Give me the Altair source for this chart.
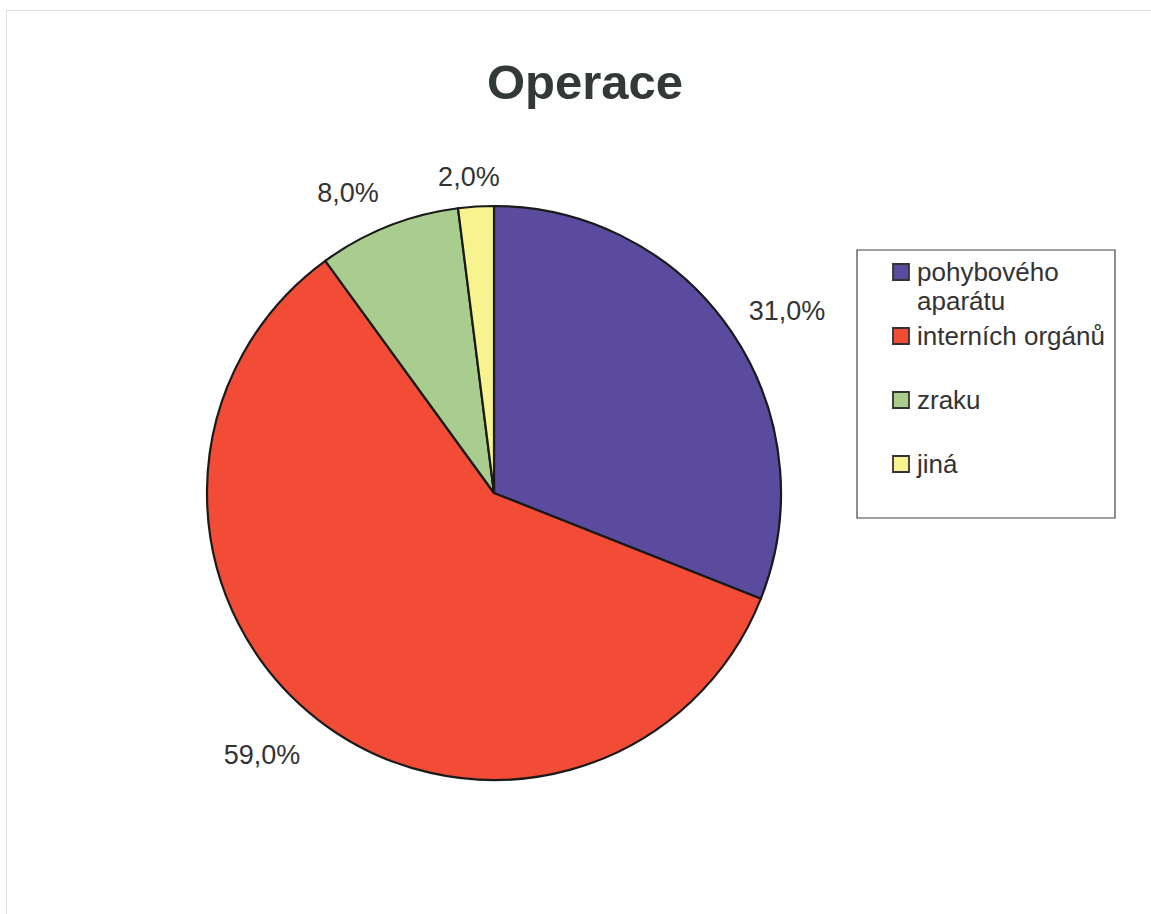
import altair as alt
import pandas as pd

categories = ["pohybového aparátu", "interních orgánů", "zraku", "jiná"]
values = [31.0, 59.0, 8.0, 2.0]
labels = ["31,0%", "59,0%", "8,0%", "2,0%"]
colors = ["#5B4B9F", "#F24B36", "#A9CD8E", "#F7F38E"]

df = pd.DataFrame({"cat": categories, "val": values, "lab": labels, "ord": list(range(len(categories)))})

FONT = "Liberation Sans"
CX, CY = 488, 483
TXT = "#333333"

color_scale = alt.Scale(domain=categories, range=colors)
base = alt.Chart(df)

pie = base.mark_arc(stroke="#1a1a1a", strokeWidth=2.2, radius=287).encode(
    theta=alt.Theta("val:Q", stack=True),
    order=alt.Order("ord:Q"),
    color=alt.Color("cat:N", scale=color_scale, legend=None),
    x=alt.value(CX),
    y=alt.value(CY),
)

# label base: compute mid-angle fraction of each slice
lab_base = base.transform_joinaggregate(total="sum(val)").transform_window(
    cum="sum(val)", sort=[alt.SortField("ord")], frame=[None, 0]
).transform_calculate(frac="(datum.cum - datum.val / 2) / datum.total")

label_specs = [
    (0, "left", "alphabetic", 308),
    (1, "right", "top", 316),
    (2, "right", "alphabetic", 313),
    (3, "right", "alphabetic", 308),
]
label_layers = []
for o, al, bl, r in label_specs:
    label_layers.append(
        lab_base.transform_filter(f"datum.ord == {o}").mark_text(
            font=FONT, fontSize=27, color=TXT, align=al, baseline=bl, radius=r,
            dx=(25 if o == 3 else 0)
        ).encode(
            theta=alt.Theta("frac:Q", scale=alt.Scale(domain=[0, 1]), stack=None),
            text="lab:N",
            x=alt.value(CX),
            y=alt.value(CY),
        )
    )

# legend (drawn as marks)
box = alt.Chart(pd.DataFrame({"k": [0]})).mark_rect(
    fill="white", stroke="#444444", strokeWidth=1.2
).encode(x=alt.value(851), x2=alt.value(1109), y=alt.value(240), y2=alt.value(508))

leg_y = alt.Y("cat:N", sort=categories, scale=alt.Scale(domain=categories, range=[262, 454], padding=0), axis=None)

leg_sym = base.mark_square(size=256, stroke="#333333", strokeWidth=1.8, opacity=1).encode(
    x=alt.value(895),
    y=leg_y,
    color=alt.Color("cat:N", scale=color_scale, legend=None),
)

leg_txt = base.transform_calculate(
    disp="datum.cat == 'pohybového aparátu' ? ['pohybového', 'aparátu'] : datum.cat"
).mark_text(
    font=FONT, fontSize=26, color=TXT, align="left", baseline="top", dy=-12.5, lineHeight=29
).encode(
    x=alt.value(911),
    y=leg_y,
    text="disp:N",
)

title = alt.Chart(pd.DataFrame({"t": ["Operace"]})).mark_text(
    font=FONT, fontSize=49, fontWeight="bold", color="#333838", baseline="alphabetic"
).encode(text="t:N", x=alt.value(579), y=alt.value(89))

chart = alt.layer(box, pie, *label_layers, leg_sym, leg_txt, title).resolve_scale(
    theta="independent"
).properties(
    width=1145,
    height=904,
    padding={"left": 6, "top": 10, "right": 0, "bottom": 0},
    autosize=alt.AutoSizeParams(type="none"),
).configure_view(stroke="#777777", strokeWidth=1.5).configure(background="white")

chart.save("out.html", embed_options={"renderer": "svg", "actions": False})
